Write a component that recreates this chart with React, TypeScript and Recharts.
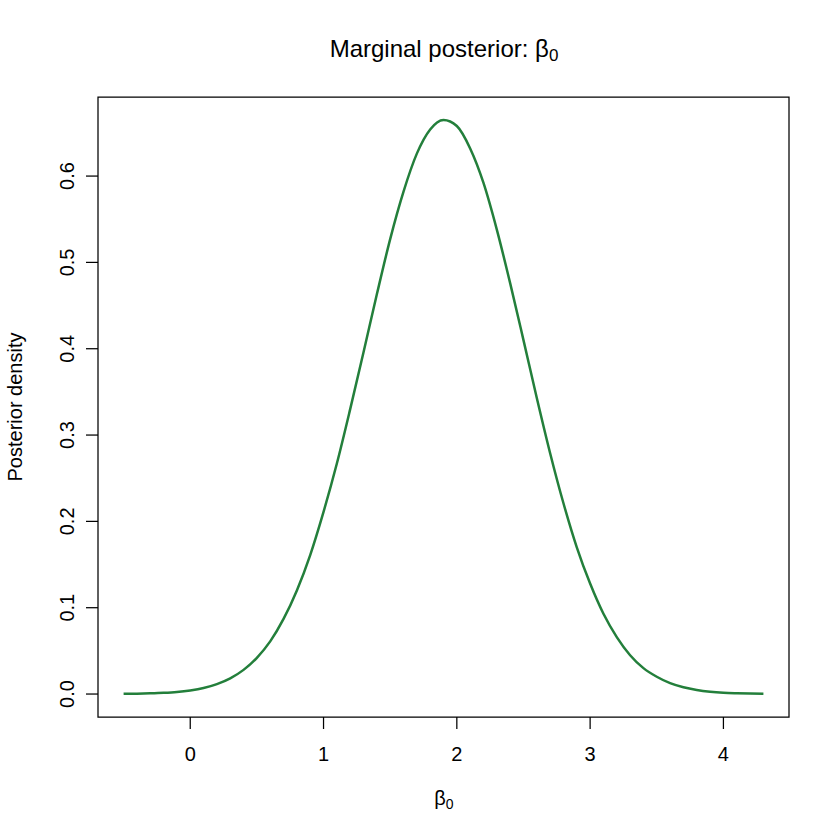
import React from 'react'
import {
  LineChart,
  Line,
  XAxis,
  YAxis,
  ReferenceArea,
} from 'recharts'

// beta_0 grid and posterior density
const betaValues = [
  -0.5, -0.4, -0.3, -0.2, -0.1, 0.0, 0.1, 0.2, 0.3, 0.4, 0.5, 0.6, 0.7, 0.8,
  0.9, 1.0, 1.1, 1.2, 1.3, 1.4, 1.5, 1.6, 1.7, 1.8, 1.9, 2.0, 2.1, 2.2, 2.3,
  2.4, 2.5, 2.6, 2.7, 2.8, 2.9, 3.0, 3.1, 3.2, 3.3, 3.4, 3.5, 3.6, 3.7, 3.8,
  3.9, 4.0, 4.1, 4.2, 4.3,
]
const densityValues = [
  0.0002, 0.0004, 0.0008, 0.0014, 0.0024, 0.0042, 0.007, 0.0115, 0.0182,
  0.028, 0.042, 0.061, 0.087, 0.12, 0.161, 0.211, 0.267, 0.33, 0.396, 0.463,
  0.527, 0.582, 0.626, 0.654, 0.665, 0.658, 0.632, 0.592, 0.538, 0.476, 0.41,
  0.343, 0.279, 0.221, 0.17, 0.128, 0.093, 0.066, 0.045, 0.03, 0.02, 0.0126,
  0.0078, 0.0047, 0.0027, 0.0015, 0.0009, 0.0005, 0.0002,
]
const xTicks = [0, 1, 2, 3, 4]
const yTicks = [0, 0.1, 0.2, 0.3, 0.4, 0.5, 0.6]

const data = betaValues.map((b, i) => ({ beta: b, density: densityValues[i] }))

const FONT = '"Liberation Sans", Arial, Helvetica, sans-serif'

const XTick = (props: any) => {
  const { x, y, payload } = props
  return (
    <text x={x} y={y + 20} textAnchor="middle" fontSize={20} fontFamily={FONT} fill="#000">
      {payload.value}
    </text>
  )
}

const YTick = (props: any) => {
  const { x, y, payload } = props
  return (
    <text
      x={x}
      y={y}
      transform={`rotate(-90 ${x} ${y})`}
      textAnchor="middle"
      fontSize={20}
      fontFamily={FONT}
      fill="#000"
    >
      {Number(payload.value).toFixed(1)}
    </text>
  )
}

const App: React.FC = () => {
  return (
    <div style={{ position: 'absolute', left: 0, top: 0, width: 840, height: 840, background: '#fff' }}>
      <LineChart
        width={840}
        height={840}
        data={data}
        margin={{ top: 97, right: 51, bottom: 0, left: 0 }}
      >
        <XAxis
          dataKey="beta"
          type="number"
          domain={[-0.692, 4.492]}
          ticks={xTicks}
          axisLine={false}
          tickLine={{ stroke: '#000', strokeWidth: 1.25 }}
          tickSize={12}
          tickMargin={12}
          height={123}
          tick={<XTick />}
          allowDataOverflow
        />
        <YAxis
          type="number"
          domain={[-0.0266, 0.6916]}
          ticks={yTicks}
          axisLine={false}
          tickLine={{ stroke: '#000', strokeWidth: 1.25 }}
          tickSize={12}
          tickMargin={12}
          width={98}
          tick={<YTick />}
          allowDataOverflow
        />
        <ReferenceArea
          x1={-0.692}
          x2={4.492}
          y1={-0.0266}
          y2={0.6916}
          fill="none"
          stroke="#000"
          strokeWidth={1.25}
          ifOverflow="visible"
        />
        <Line
          dataKey="density"
          type="monotone"
          stroke="#237f3b"
          strokeWidth={2.5}
          dot={false}
          isAnimationActive={false}
        />
      </LineChart>
      <svg
        width={840}
        height={840}
        style={{ position: 'absolute', left: 0, top: 0, pointerEvents: 'none' }}
        fontFamily={FONT}
      >
        <text x={444} y={57} textAnchor="middle" fontSize={24} fill="#000">
          Marginal posterior: β
          <tspan fontSize={17} dy={4}>0</tspan>
        </text>
        <text x={444} y={805} textAnchor="middle" fontSize={20} fill="#000">
          β<tspan fontSize={14} dy={4}>0</tspan>
        </text>
        <text
          x={22}
          y={407}
          transform="rotate(-90 22 407)"
          textAnchor="middle"
          fontSize={20}
          fill="#000"
        >
          Posterior density
        </text>
      </svg>
    </div>
  )
}

export default App
